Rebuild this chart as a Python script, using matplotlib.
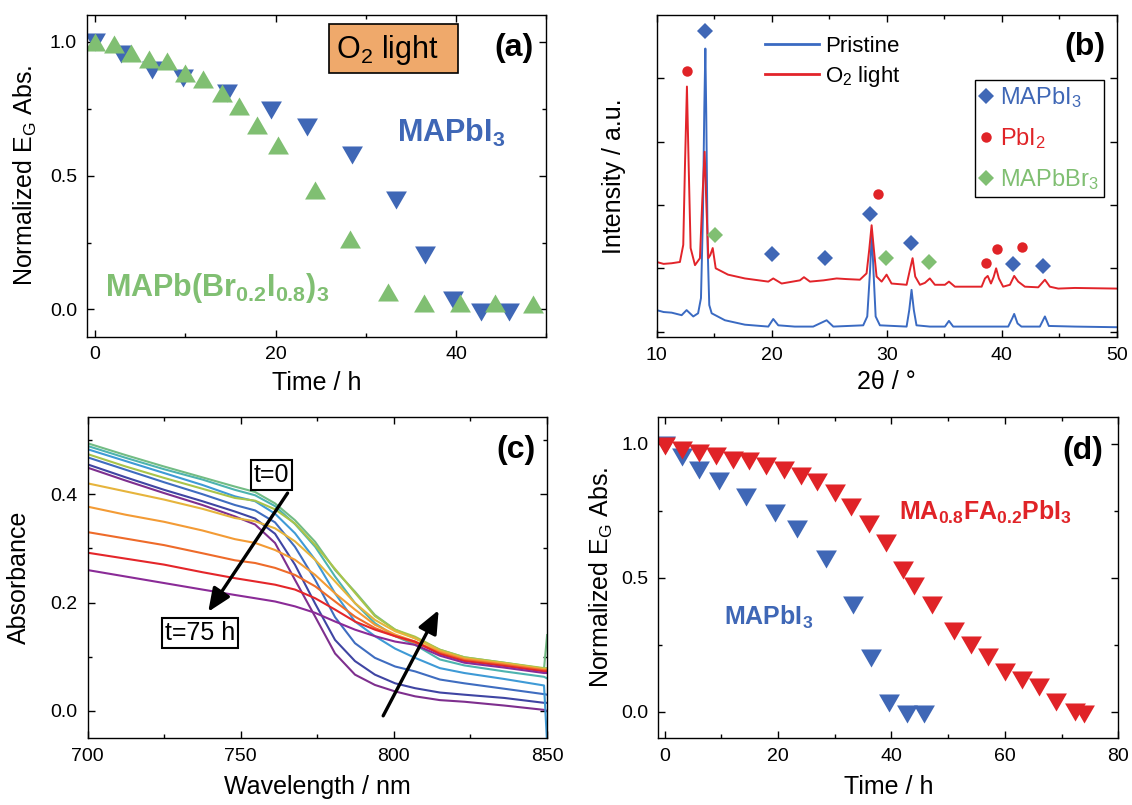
import matplotlib
matplotlib.use('Agg')
import matplotlib.pyplot as plt
from matplotlib.patches import Rectangle
from matplotlib.ticker import MultipleLocator

plt.rcParams['font.family'] = ['Liberation Sans', 'DejaVu Sans']
plt.rcParams['mathtext.default'] = 'regular'
plt.rcParams['axes.linewidth'] = 1.0

# ---------- (a) normalized gap absorbance, O2 + light ----------
a_mapi_t = [0, 2.9, 6.3, 9.7, 14.6, 19.5, 23.5, 28.5, 33.3, 36.5, 39.6, 42.8, 45.9]
a_mapi_v = [1.0, 0.956, 0.894, 0.863, 0.807, 0.745, 0.682, 0.577, 0.408, 0.203, 0.035, -0.009, -0.009]
a_br_t = [0, 2.1, 4.0, 6.0, 8.0, 10.0, 12.0, 14.05, 16.0, 17.9, 20.3, 24.4, 28.3, 32.4, 36.4, 40.4, 44.3, 48.5]
a_br_v = [1.0, 0.99, 0.96, 0.935, 0.93, 0.885, 0.86, 0.81, 0.76, 0.69, 0.615, 0.445, 0.262, 0.065, 0.025, 0.025, 0.025, 0.02]

# ---------- (b) XRD ----------
xrd_pristine_2th = [10.0, 10.6, 11.3, 12.17, 12.6, 13.18, 13.6, 13.85, 14.02, 14.14, 14.23, 14.31, 14.43,
                    14.57, 14.78, 15.93, 17.67, 19.7, 20.13, 20.57, 22.0, 23.6, 24.77, 25.35, 27.95, 28.3,
                    28.53, 28.7, 28.85, 29.03, 29.4, 31.72, 31.95, 32.15, 32.35, 32.58, 33.74, 35.05, 35.4,
                    35.77, 40.55, 40.9, 41.07, 41.36, 41.7, 43.3, 43.74, 44.08, 46.34, 50.0]
xrd_pristine_int = [0.34, 0.31, 0.30, 0.26, 0.34, 0.24, 0.29, 0.53, 1.84, 3.53, 4.47, 3.42, 1.32,
                    0.42, 0.29, 0.18, 0.11, 0.08, 0.20, 0.10, 0.08, 0.08, 0.18, 0.08, 0.10, 0.24,
                    0.92, 1.55, 0.92, 0.24, 0.10, 0.08, 0.34, 0.66, 0.34, 0.10, 0.08, 0.08, 0.17,
                    0.08, 0.08, 0.21, 0.28, 0.13, 0.08, 0.08, 0.24, 0.09, 0.08, 0.07]
xrd_o2_2th = [10.0, 10.6, 11.3, 12.02, 12.31, 12.46, 12.63, 12.78, 12.95, 13.33, 13.76, 13.97, 14.17,
              14.31, 14.49, 14.66, 14.87, 15.13, 16.2, 17.67, 19.7, 20.13, 20.86, 22.45, 22.8, 23.32,
              24.5, 25.64, 26.5, 27.66, 28.24, 28.47, 28.68, 28.88, 29.11, 29.55, 29.98, 30.41, 31.72,
              32.0, 32.24, 32.47, 32.88, 33.31, 33.74, 34.18, 35.05, 35.4, 35.92, 38.24, 38.53, 38.77,
              39.05, 39.28, 39.5, 39.74, 40.11, 40.7, 41.07, 41.42, 42.0, 43.16, 43.74, 44.17, 44.9,
              46.34, 50.0]
xrd_o2_int = [1.10, 1.07, 1.08, 1.10, 1.37, 2.63, 3.87, 2.63, 1.32, 1.05, 1.16, 2.10, 2.84,
              2.05, 1.16, 1.21, 1.32, 1.00, 0.90, 0.84, 0.79, 0.84, 0.76, 0.81, 0.86, 0.79,
              0.81, 0.84, 0.83, 0.82, 0.92, 1.29, 1.68, 1.29, 0.87, 0.79, 0.90, 0.76, 0.74,
              0.97, 1.16, 0.87, 0.74, 0.77, 0.84, 0.74, 0.74, 0.79, 0.71, 0.71, 0.84, 0.88,
              0.76, 0.86, 1.00, 0.84, 0.71, 0.74, 0.88, 0.79, 0.71, 0.70, 0.82, 0.71, 0.68,
              0.69, 0.68]
mk_mapi_x = [14.18, 20.04, 24.64, 28.55, 32.1, 41.0, 43.6]
mk_mapi_y = [4.75, 1.23, 1.16, 1.86, 1.40, 1.07, 1.04]
mk_pbi2_x = [12.63, 29.24, 38.6, 39.54, 41.76]
mk_pbi2_y = [4.12, 2.17, 1.09, 1.31, 1.33]
mk_mapbbr_x = [15.07, 29.97, 33.7]
mk_mapbbr_y = [1.53, 1.16, 1.10]

# ---------- (c) absorbance spectra (t = 0 ... 75 h) ----------
wavelength = [700, 712.5, 725, 737.5, 748.1, 754.7, 761.2, 767.7, 774.3, 780.8, 787.3, 793.8,
              800.4, 806.9, 815, 823, 836, 849, 850]
spec_01 = [.449, .425, .402, .380, .359, .344, .310, .242, .174, .106, .067, .048, .036, .027, .020, .017, .010, .002, .000]
spec_02 = [.455, .431, .408, .387, .368, .355, .327, .270, .198, .131, .092, .067, .051, .042, .034, .030, .024, .015, .015]
spec_03 = [.468, .445, .422, .400, .380, .370, .348, .303, .242, .173, .125, .098, .082, .073, .058, .051, .041, .031, .030]
spec_04 = [.483, .461, .439, .417, .396, .387, .364, .328, .279, .217, .165, .138, .115, .098, .079, .070, .059, .047, -.06]
spec_05 = [.489, .467, .446, .427, .408, .398, .378, .345, .303, .248, .199, .162, .138, .122, .095, .084, .073, .063, .060]
spec_06 = [.494, .472, .451, .431, .414, .404, .383, .352, .312, .260, .220, .177, .150, .134, .113, .099, .089, .078, .140]
spec_07 = [.474, .451, .430, .410, .393, .388, .372, .346, .306, .262, .218, .175, .150, .137, .113, .099, .089, .079, .079]
spec_08 = [.420, .405, .390, .373, .356, .350, .337, .313, .279, .239, .199, .168, .147, .134, .111, .097, .088, .077, .077]
spec_09 = [.377, .362, .349, .333, .317, .310, .297, .279, .251, .217, .187, .159, .141, .128, .109, .096, .086, .076, .076]
spec_10 = [.330, .318, .306, .291, .278, .273, .264, .251, .230, .202, .174, .153, .138, .126, .107, .094, .085, .075, .075]
spec_11 = [.292, .281, .270, .256, .245, .239, .233, .224, .208, .187, .165, .150, .138, .128, .105, .092, .083, .073, .073]
spec_12 = [.260, .248, .236, .224, .214, .208, .202, .193, .181, .165, .150, .138, .128, .122, .102, .089, .080, .070, .070]
spectra = [spec_01, spec_02, spec_03, spec_04, spec_05, spec_06,
           spec_07, spec_08, spec_09, spec_10, spec_11, spec_12]
spec_colors = ['#7E2F8E', '#3F45A3', '#3F6DC0', '#3E9AD6', '#4DB3B0', '#72BC84',
               '#A9C44A', '#E6B43C', '#F39B35', '#EE6B2A', '#E4262A', '#8A2B97']

# ---------- (d) normalized gap absorbance ----------
d_mapi_t = [0, 2.97, 6.0, 9.5, 14.4, 19.5, 23.4, 28.4, 33.2, 36.4, 39.5, 42.7, 45.8]
d_mapi_v = [0.995, 0.95, 0.90, 0.86, 0.80, 0.74, 0.68, 0.57, 0.40, 0.20, 0.034, -0.006, -0.006]
d_mafa_t = [0, 2.97, 6.0, 9.0, 12.0, 14.9, 17.9, 21.0, 24.0, 26.9, 29.98, 32.9, 35.96, 39.1, 42.1,
            44.0, 47.1, 51.0, 54.0, 57.1, 60.0, 63.0, 66.1, 69.0, 72.3, 74.0]
d_mafa_v = [0.989, 0.976, 0.966, 0.954, 0.94, 0.933, 0.918, 0.90, 0.88, 0.858, 0.815, 0.765, 0.70,
            0.63, 0.53, 0.47, 0.40, 0.30, 0.249, 0.205, 0.149, 0.12, 0.093, 0.037, 0.0, -0.006]

BLUE = '#3F67B6'
RED = '#E02327'
GREEN = '#80BF72'

tri_up = [(-1, -0.866), (1, -0.866), (0, 0.866)]
tri_dn = [(-1, 0.866), (1, 0.866), (0, -0.866)]


def style(ax):
    ax.tick_params(which='both', direction='in', top=True, right=True, labelsize=14, width=1.0, pad=7)
    ax.tick_params(which='major', length=5)
    ax.tick_params(which='minor', length=3)


fig = plt.figure(figsize=(11.32, 8.05), dpi=100)
axa = fig.add_axes([0.0767, 0.5817, 0.4060, 0.3996])
axb = fig.add_axes([0.5801, 0.5814, 0.4066, 0.4000])
axc = fig.add_axes([0.0773, 0.0829, 0.4060, 0.3995])
axd = fig.add_axes([0.5817, 0.0829, 0.4061, 0.3995])

# (a)
axa.plot(a_mapi_t, a_mapi_v, linestyle='none', marker=tri_dn, ms=15, color=BLUE, mew=0)
axa.plot(a_br_t, a_br_v, linestyle='none', marker=tri_up, ms=15, color=GREEN, mew=0)
axa.set_xlim(-0.9, 50)
axa.set_ylim(-0.102, 1.1)
axa.xaxis.set_major_locator(MultipleLocator(20))
axa.xaxis.set_minor_locator(MultipleLocator(10))
axa.yaxis.set_major_locator(MultipleLocator(0.5))
axa.yaxis.set_minor_locator(MultipleLocator(0.25))
style(axa)
axa.set_xlabel('Time / h', fontsize=18)
axa.set_ylabel('Normalized E$_G$ Abs.', fontsize=18)
axa.xaxis.set_label_coords(0.5, -0.107)
axa.yaxis.set_label_coords(-0.105, 0.5)
axa.text(33.4, 0.627, 'MAPbI$_3$', color=BLUE, fontsize=22, fontweight='bold', va='baseline')
axa.text(1.15, 0.05, 'MAPb(Br$_{0.2}$I$_{0.8}$)$_3$', color=GREEN, fontsize=22, fontweight='bold', va='baseline')
axa.add_patch(Rectangle((0.526, 0.8206), 0.2815, 0.1514, transform=axa.transAxes,
                        facecolor='#EFA96B', edgecolor='black', lw=1.2, zorder=3))
axa.text(0.5416, 0.865, 'O$_2$ light', transform=axa.transAxes, fontsize=22, va='baseline', zorder=4)
axa.text(0.973, 0.899, '(a)', transform=axa.transAxes, fontsize=23, fontweight='bold', ha='right', va='center')

# (b)
lb, = axb.plot(xrd_pristine_2th, xrd_pristine_int, color='#3A6AC2', lw=1.4, label='Pristine')
lr, = axb.plot(xrd_o2_2th, xrd_o2_int, color='#E2242A', lw=1.4, label='O$_2$ light')
m1, = axb.plot(mk_mapi_x, mk_mapi_y, 'D', color=BLUE, ms=8, mew=0, label='MAPbI$_3$')
m2, = axb.plot(mk_pbi2_x, mk_pbi2_y, 'o', color=RED, ms=7.5, mew=0, label='PbI$_2$')
m3, = axb.plot(mk_mapbbr_x, mk_mapbbr_y, 'D', color=GREEN, ms=8, mew=0, label='MAPbBr$_3$')
axb.set_xlim(10, 50)
axb.set_ylim(-0.084, 5.0)
axb.xaxis.set_major_locator(MultipleLocator(10))
axb.xaxis.set_minor_locator(MultipleLocator(5))
axb.set_yticks([0, 1, 2, 3, 4])
axb.set_yticklabels([])
style(axb)
axb.set_xlabel('2θ / °', fontsize=18)
axb.set_ylabel('Intensity / a.u.', fontsize=18)
axb.xaxis.set_label_coords(0.5, -0.102)
axb.yaxis.set_label_coords(-0.066, 0.5)
leg1 = axb.legend(handles=[lb, lr], loc='upper left', bbox_to_anchor=(0.236, 0.935), frameon=False,
                  fontsize=16, handlelength=2.4, handletextpad=0.3, labelspacing=0.3,
                  borderpad=0, borderaxespad=0)
for h in leg1.get_lines():
    h.set_linewidth(2.0)
axb.add_artist(leg1)
leg2 = axb.legend(handles=[m1, m2, m3], loc='upper right', bbox_to_anchor=(0.971, 0.798), fontsize=17,
                  frameon=True, fancybox=False, edgecolor='black', framealpha=1, handlelength=0.55,
                  handletextpad=0.3, labelspacing=0.68, borderpad=0.22, borderaxespad=0,
                  labelcolor='markerfacecolor')
leg2.get_frame().set_linewidth(1.0)
axb.text(0.975, 0.899, '(b)', transform=axb.transAxes, fontsize=23, fontweight='bold', ha='right', va='center')

# (c)
for s, c in zip(spectra, spec_colors):
    axc.plot(wavelength, s, color=c, lw=1.5)
axc.set_xlim(700, 850)
axc.set_ylim(-0.0504, 0.543)
axc.xaxis.set_major_locator(MultipleLocator(50))
axc.xaxis.set_minor_locator(MultipleLocator(25))
axc.yaxis.set_major_locator(MultipleLocator(0.2))
axc.yaxis.set_minor_locator(MultipleLocator(0.1))
style(axc)
axc.set_xlabel('Wavelength / nm', fontsize=18)
axc.set_ylabel('Absorbance', fontsize=18)
axc.xaxis.set_label_coords(0.5, -0.115)
axc.yaxis.set_label_coords(-0.124, 0.5)
arrow = dict(arrowstyle='-|>,head_length=0.7,head_width=0.3', lw=2.4, color='black',
             shrinkA=0, shrinkB=0, mutation_scale=20)
axc.annotate('', xy=(739.4, 0.183), xytext=(765.3, 0.402), arrowprops=arrow)
axc.annotate('', xy=(814.6, 0.186), xytext=(796.5, -0.009), arrowprops=arrow)
box = dict(boxstyle='square,pad=0.12', fc='white', ec='black', lw=1.5)
axc.text(760.1, 0.436, 't=0', fontsize=18, ha='center', va='center', bbox=box, zorder=5)
axc.text(736.7, 0.143, 't=75 h', fontsize=18, ha='center', va='center', bbox=box, zorder=5)
axc.text(0.975, 0.896, '(c)', transform=axc.transAxes, fontsize=23, fontweight='bold', ha='right', va='center')

# (d)
axd.plot(d_mapi_t, d_mapi_v, linestyle='none', marker=tri_dn, ms=15, color=BLUE, mew=0)
axd.plot(d_mafa_t, d_mafa_v, linestyle='none', marker=tri_dn, ms=15, color=RED, mew=0)
axd.set_xlim(-1.1, 80)
axd.set_ylim(-0.098, 1.1)
axd.xaxis.set_major_locator(MultipleLocator(20))
axd.xaxis.set_minor_locator(MultipleLocator(10))
axd.yaxis.set_major_locator(MultipleLocator(0.5))
axd.yaxis.set_minor_locator(MultipleLocator(0.25))
style(axd)
axd.set_xlabel('Time / h', fontsize=18)
axd.set_ylabel('Normalized E$_G$ Abs.', fontsize=18)
axd.xaxis.set_label_coords(0.5, -0.115)
axd.yaxis.set_label_coords(-0.095, 0.5)
axd.text(41.4, 0.715, 'MA$_{0.8}$FA$_{0.2}$PbI$_3$', color=RED, fontsize=18, fontweight='bold', va='baseline')
axd.text(10.5, 0.323, 'MAPbI$_3$', color=BLUE, fontsize=18, fontweight='bold', va='baseline')
axd.text(0.968, 0.892, '(d)', transform=axd.transAxes, fontsize=23, fontweight='bold', ha='right', va='center')

fig.savefig('out.png', dpi=100)
